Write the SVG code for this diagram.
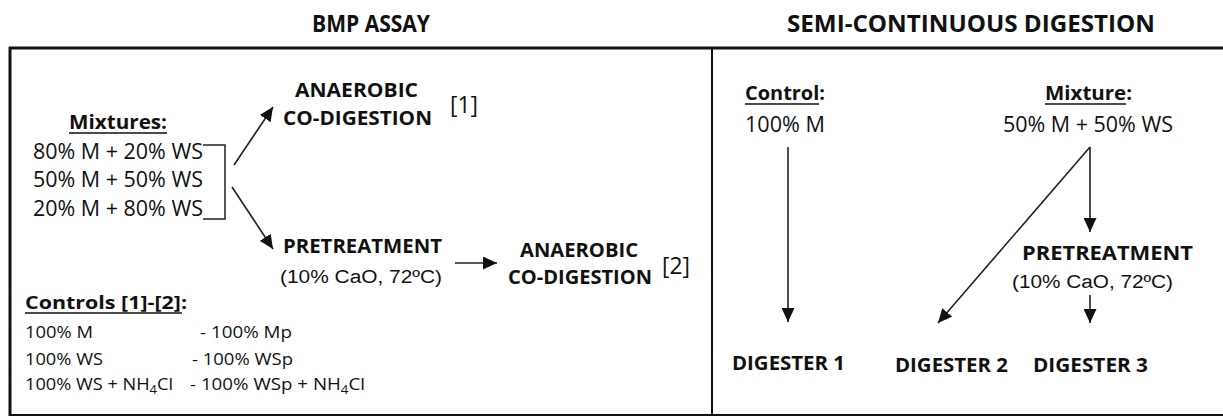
<svg xmlns="http://www.w3.org/2000/svg" width="1223" height="417" viewBox="0 0 1223 417">
<style>
  text { fill: #111; font-family: "Open Sans", "Noto Sans", "DejaVu Sans", sans-serif; }
  .title { font-weight: bold; font-size: 23px; }
  .b { font-weight: bold; font-size: 19.5px; }
  .r { font-size: 22px; }
  .ref { font-size: 24px; }
  .arial { font-family: "Liberation Sans", Arial, sans-serif; font-size: 18px; }
  .small { font-size: 17px; }
  .sb { font-weight: bold; font-size: 18px; }
  .frame { stroke: #111; fill: none; }
  .conn { stroke: #222; stroke-width: 1.6; fill: none; marker-end: url(#ah); }
  .ul { stroke: #111; stroke-width: 1.5; }
  .br { stroke: #222; stroke-width: 1.5; fill: none; }
</style>
<defs>
  <marker id="ah" markerUnits="userSpaceOnUse" markerWidth="14" markerHeight="13" refX="14" refY="6.5" orient="auto">
    <path d="M0,0 L14,6.5 L0,13 z" fill="#111"/>
  </marker>
</defs>
<rect width="1223" height="417" fill="#fff"/>

<g id="frame">
  <line class="frame" x1="9" y1="48" x2="1223" y2="48" stroke-width="3"/>
  <line class="frame" x1="10" y1="47" x2="10" y2="416" stroke-width="3"/>
  <line class="frame" x1="9" y1="415" x2="1223" y2="415" stroke-width="2"/>
  <line class="frame" x1="712" y1="48" x2="712" y2="415" stroke-width="2"/>
</g>

<g id="titles">
  <text class="title" x="312" y="32" textLength="118" lengthAdjust="spacingAndGlyphs">BMP ASSAY</text>
  <text class="title" x="787" y="32" textLength="368" lengthAdjust="spacingAndGlyphs">SEMI-CONTINUOUS DIGESTION</text>
</g>

<g id="mixtures">
  <text class="sb" x="69" y="129" textLength="98" lengthAdjust="spacingAndGlyphs" style="font-size:20px">Mixtures:</text>
  <line class="ul" x1="69" y1="133" x2="167" y2="133"/>
  <text class="r" x="33" y="159" textLength="170" lengthAdjust="spacingAndGlyphs">80% M + 20% WS</text>
  <text class="r" x="33" y="187" textLength="170" lengthAdjust="spacingAndGlyphs">50% M + 50% WS</text>
  <text class="r" x="33" y="216" textLength="170" lengthAdjust="spacingAndGlyphs">20% M + 80% WS</text>
  <path class="br" d="M203,145 H225 V219 H203"/>
</g>

<g id="codigestion1">
  <text class="b" x="295" y="97" textLength="123" lengthAdjust="spacingAndGlyphs">ANAEROBIC</text>
  <text class="b" x="283" y="125" textLength="149" lengthAdjust="spacingAndGlyphs">CO-DIGESTION</text>
  <text class="ref" x="450" y="113" textLength="28" lengthAdjust="spacingAndGlyphs">[1]</text>
</g>

<g id="pretreatment1">
  <text class="b" x="283" y="253" textLength="159" lengthAdjust="spacingAndGlyphs">PRETREATMENT</text>
  <text class="arial" x="280" y="283" textLength="162" lengthAdjust="spacingAndGlyphs">(10% CaO, 72ºC)</text>
</g>

<g id="codigestion2">
  <text class="b" x="520" y="257" textLength="118" lengthAdjust="spacingAndGlyphs">ANAEROBIC</text>
  <text class="b" x="508" y="284" textLength="144" lengthAdjust="spacingAndGlyphs">CO-DIGESTION</text>
  <text class="ref" x="662" y="274" textLength="28" lengthAdjust="spacingAndGlyphs">[2]</text>
</g>

<g id="controls">
  <text class="sb" x="25" y="309" textLength="162" lengthAdjust="spacingAndGlyphs">Controls [1]-[2]:</text>
  <line class="ul" x1="25" y1="313" x2="182" y2="313"/>
  <text class="small" x="25" y="338" textLength="68" lengthAdjust="spacingAndGlyphs">100% M</text>
  <text class="small" x="200" y="338" textLength="92" lengthAdjust="spacingAndGlyphs">- 100% Mp</text>
  <text class="small" x="25" y="365" textLength="78" lengthAdjust="spacingAndGlyphs">100% WS</text>
  <text class="small" x="192" y="365" textLength="101" lengthAdjust="spacingAndGlyphs">- 100% WSp</text>
  <text class="small" x="25" y="390" textLength="148" lengthAdjust="spacingAndGlyphs">100% WS + NH<tspan font-size="12" dy="4">4</tspan><tspan dy="-4">Cl</tspan></text>
  <text class="small" x="190" y="390" textLength="175" lengthAdjust="spacingAndGlyphs">- 100%  WSp + NH<tspan font-size="12" dy="4">4</tspan><tspan dy="-4">Cl</tspan></text>
</g>

<g id="control">
  <text class="sb" x="745" y="100" style="font-size:19px" textLength="80" lengthAdjust="spacingAndGlyphs">Control:</text>
  <line class="ul" x1="745" y1="104" x2="819" y2="104"/>
  <text class="r" x="745" y="132" textLength="80" lengthAdjust="spacingAndGlyphs">100% M</text>
</g>

<g id="mixture">
  <text class="sb" x="1045" y="100" style="font-size:19px" textLength="87" lengthAdjust="spacingAndGlyphs">Mixture:</text>
  <line class="ul" x1="1045" y1="104" x2="1126" y2="104"/>
  <text class="r" x="1003" y="132" textLength="170" lengthAdjust="spacingAndGlyphs">50% M + 50% WS</text>
</g>

<g id="pretreatment2">
  <text class="b" x="1022" y="260" textLength="171" lengthAdjust="spacingAndGlyphs">PRETREATMENT</text>
  <text class="arial" x="1012" y="288" textLength="161" lengthAdjust="spacingAndGlyphs">(10% CaO, 72ºC)</text>
</g>

<g id="digester1">
  <text class="b" x="732" y="370" textLength="113" lengthAdjust="spacingAndGlyphs">DIGESTER 1</text>
</g>
<g id="digester2">
  <text class="b" x="895" y="372" textLength="113" lengthAdjust="spacingAndGlyphs">DIGESTER 2</text>
</g>
<g id="digester3">
  <text class="b" x="1033" y="372" textLength="115" lengthAdjust="spacingAndGlyphs">DIGESTER 3</text>
</g>

<g id="connectors">
  <line class="conn" x1="234" y1="165" x2="273" y2="107"/>
  <line class="conn" x1="232" y1="187" x2="273" y2="249"/>
  <line class="conn" x1="455" y1="263" x2="497" y2="263"/>
  <line class="conn" x1="788" y1="147" x2="788" y2="322"/>
  <line class="conn" x1="1090" y1="147" x2="1090" y2="232"/>
  <line class="conn" x1="1090" y1="147" x2="938" y2="323"/>
  <line class="conn" x1="1090" y1="295" x2="1090" y2="323"/>
</g>
</svg>
